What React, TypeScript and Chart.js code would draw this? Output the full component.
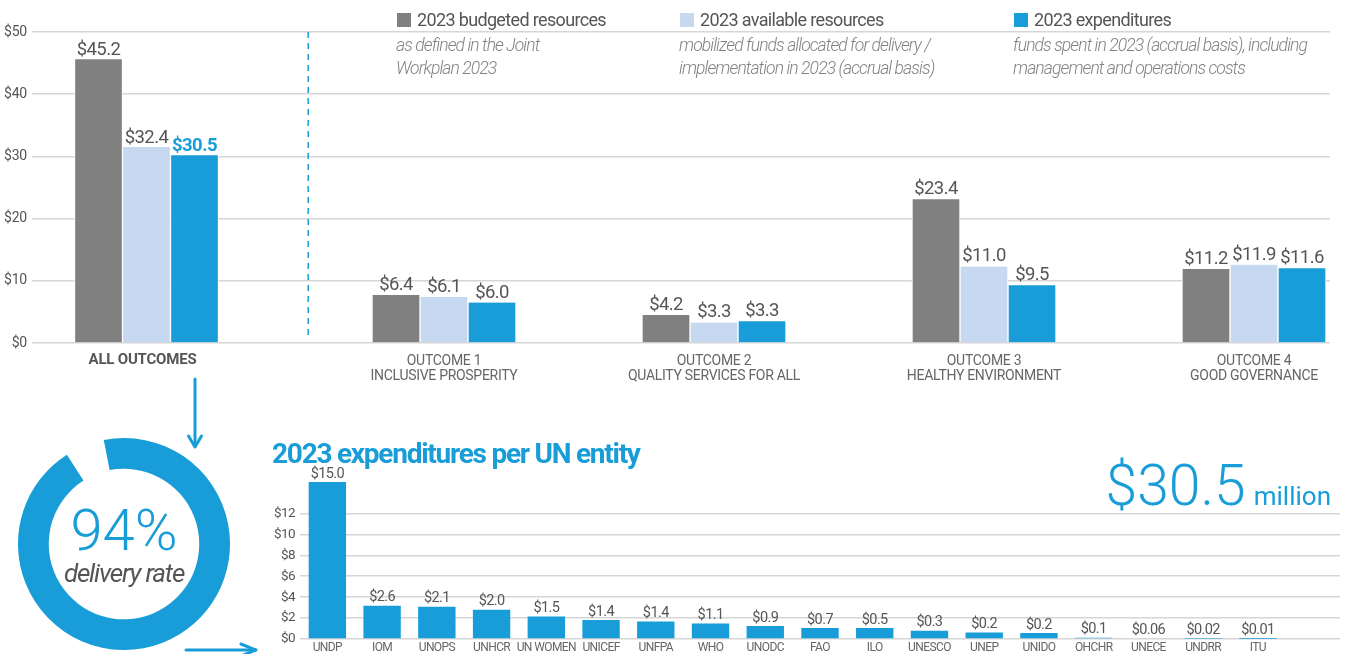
import React, { useEffect, useRef } from 'react';
import { Chart, registerables } from 'chart.js';

Chart.register(...registerables);

const BLUE = '#189dd9';
const LIGHT_BLUE = '#c6d9f0';
const GRAY = '#808080';
const GRID = '#d6d6d6';
const TEXT = '#555555';
const SUBTEXT = '#666666';
const NOTE = '#828282';
const FONT = 'Roboto, "Noto Sans", sans-serif';

// ---- Top chart data (US$ million) ----
const seriesNames = ['2023 budgeted resources', '2023 available resources', '2023 expenditures'];
const seriesNotes = [
  ['as defined in the Joint', 'Workplan 2023'],
  ['mobilized funds allocated for delivery /', 'implementation in 2023 (accrual basis)'],
  ['funds spent in 2023 (accrual basis), including', 'management and operations costs'],
];
const allOutcomesLabel = ['ALL OUTCOMES'];
const outcomeLabels = [
  ['OUTCOME 1', 'INCLUSIVE PROSPERITY'],
  ['OUTCOME 2', 'QUALITY SERVICES FOR ALL'],
  ['OUTCOME 3', 'HEALTHY ENVIRONMENT'],
  ['OUTCOME 4', 'GOOD GOVERNANCE'],
];
// bar heights as drawn: [all outcomes, outcome 1..4]
const budgetedBars = [45.6, 7.7, 4.5, 23.1, 11.9];
const availableBars = [31.5, 7.4, 3.3, 12.3, 12.6];
const expenditureBars = [30.2, 6.5, 3.5, 9.3, 12.0];
// values printed above the bars
const budgetedValues = [45.2, 6.4, 4.2, 23.4, 11.2];
const availableValues = [32.4, 6.1, 3.3, 11.0, 11.9];
const expenditureValues = [30.5, 6.0, 3.3, 9.5, 11.6];
const topTicks = [0, 10, 20, 30, 40, 50];

// ---- Bottom chart data ----
const entities = ['UNDP', 'IOM', 'UNOPS', 'UNHCR', 'UN WOMEN', 'UNICEF', 'UNFPA', 'WHO', 'UNODC', 'FAO', 'ILO', 'UNESCO', 'UNEP', 'UNIDO', 'OHCHR', 'UNECE', 'UNDRR', 'ITU'];
const entityBars = [15.0, 3.17, 3.08, 2.79, 2.16, 1.81, 1.68, 1.49, 1.24, 1.05, 1.05, 0.79, 0.63, 0.57, 0.12, 0.06, 0.02, 0.01];
const entityValues = [15.0, 2.6, 2.1, 2.0, 1.5, 1.4, 1.4, 1.1, 0.9, 0.7, 0.5, 0.3, 0.2, 0.2, 0.1, 0.06, 0.02, 0.01];
const entityTicks = [0, 2, 4, 6, 8, 10, 12];

// ---- Delivery rate ----
const deliveryRate = [94, 6];
const totalExpenditure = 30.5;

const fmt = (v: number) => '$' + (v >= 0.1 || v === 0 ? v.toFixed(1) : v.toFixed(2));

function letterSpacingPlugin(px: string) {
  return {
    id: 'letterSpacing',
    beforeDraw(chart: any) { chart.ctx.letterSpacing = px; },
    afterDraw(chart: any) { chart.ctx.letterSpacing = '0px'; },
  };
}

function valueLabelsPlugin(values: (number[] | null)[], styleFor: (ds: number, i: number) => { font: string; color: string }, gap: number, ls: string) {
  return {
    id: 'valueLabels',
    afterDatasetsDraw(chart: any) {
      const ctx = chart.ctx;
      values.forEach((vals, di) => {
        if (!vals) return;
        const meta = chart.getDatasetMeta(di);
        meta.data.forEach((el: any, i: number) => {
          const v = vals[i];
          if (v == null) return;
          const st = styleFor(di, i);
          ctx.save();
          ctx.letterSpacing = ls;
          ctx.font = st.font;
          ctx.fillStyle = st.color;
          ctx.textAlign = 'center';
          ctx.textBaseline = 'alphabetic';
          ctx.fillText(fmt(v), el.x, el.y - gap);
          ctx.restore();
        });
      });
    },
  };
}

const dividerPlugin = {
  id: 'divider',
  afterDraw(chart: any) {
    const { ctx, chartArea } = chart;
    ctx.save();
    ctx.strokeStyle = BLUE;
    ctx.lineWidth = 1.5;
    ctx.setLineDash([6, 5]);
    ctx.beginPath();
    ctx.moveTo(chartArea.right - 0.8, chartArea.top);
    ctx.lineTo(chartArea.right - 0.8, chartArea.bottom - 3);
    ctx.stroke();
    ctx.restore();
  },
};

function topY(showTicks: boolean, width: number) {
  return {
    min: 0,
    max: 50,
    afterBuildTicks: (s: any) => { s.ticks = topTicks.map((v) => ({ value: v })); },
    afterFit: (s: any) => { s.width = width; },
    ticks: {
      display: showTicks,
      padding: 5,
      color: TEXT,
      font: { family: FONT, size: 14 },
      callback: (v: any) => '$' + v,
    },
    grid: { color: GRID, lineWidth: 1.5, drawTicks: false },
    border: { display: false },
  };
}

const barDefaults = {
  barThickness: 48,
  borderWidth: { left: 1, right: 1, top: 0, bottom: 0 },
  borderColor: '#ffffff',
};

const TOP_H = 392;
const TOP_X_AXIS_H = TOP_H - 343;

export default function App() {
  const leftRef = useRef<HTMLCanvasElement>(null);
  const rightRef = useRef<HTMLCanvasElement>(null);
  const entRef = useRef<HTMLCanvasElement>(null);
  const donutRef = useRef<HTMLCanvasElement>(null);

  useEffect(() => {
    const charts: Chart[] = [];
    const valueFont = `400 18.5px ${FONT}`;

    // Left: all outcomes
    charts.push(new Chart(leftRef.current as HTMLCanvasElement, {
      type: 'bar',
      data: {
        labels: allOutcomesLabel,
        datasets: [
          { label: seriesNames[0], data: budgetedBars.slice(0, 1), backgroundColor: GRAY, ...barDefaults },
          { label: seriesNames[1], data: availableBars.slice(0, 1), backgroundColor: LIGHT_BLUE, ...barDefaults },
          { label: seriesNames[2], data: expenditureBars.slice(0, 1), backgroundColor: BLUE, ...barDefaults },
          { label: 'spacer', data: [null], backgroundColor: 'rgba(0,0,0,0)', ...barDefaults },
        ] as any,
      },
      options: {
        responsive: false,
        animation: false,
        layout: { padding: { top: 32, right: 0, left: 0, bottom: 0 } },
        plugins: { legend: { display: false }, tooltip: { enabled: false } },
        scales: {
          x: {
            offset: true,
            grid: { display: false, drawTicks: false },
            border: { display: false },
            afterFit: (s: any) => { s.height = TOP_X_AXIS_H; },
            ticks: { color: TEXT, font: { family: FONT, size: 15, weight: 'bold' }, padding: 8, labelOffset: -28, maxRotation: 0, autoSkip: false },
          },
          y: topY(true, 32) as any,
        },
      } as any,
      plugins: [
        letterSpacingPlugin('-0.2px'),
        valueLabelsPlugin(
          [budgetedValues.slice(0, 1), availableValues.slice(0, 1), expenditureValues.slice(0, 1), null],
          (ds) => ds === 2 ? { font: `700 18.5px ${FONT}`, color: BLUE } : { font: valueFont, color: TEXT },
          4, '-0.6px'),
        dividerPlugin,
      ],
    }));

    // Right: outcomes 1-4
    charts.push(new Chart(rightRef.current as HTMLCanvasElement, {
      type: 'bar',
      data: {
        labels: outcomeLabels,
        datasets: [
          { label: seriesNames[0], data: budgetedBars.slice(1), backgroundColor: GRAY, ...barDefaults },
          { label: seriesNames[1], data: availableBars.slice(1), backgroundColor: LIGHT_BLUE, ...barDefaults },
          { label: seriesNames[2], data: expenditureBars.slice(1), backgroundColor: BLUE, ...barDefaults },
        ] as any,
      },
      options: {
        responsive: false,
        animation: false,
        layout: { padding: { top: 32, right: 0, left: 0, bottom: 0 } },
        plugins: { legend: { display: false }, tooltip: { enabled: false } },
        scales: {
          x: {
            offset: true,
            grid: { display: false, drawTicks: false },
            border: { display: false },
            afterFit: (s: any) => { s.height = TOP_X_AXIS_H; },
            ticks: { color: SUBTEXT, font: { family: FONT, size: 14, lineHeight: 1.05 }, padding: 11, maxRotation: 0, autoSkip: false },
          },
          y: topY(false, 0) as any,
        },
      } as any,
      plugins: [
        letterSpacingPlugin('-0.3px'),
        valueLabelsPlugin(
          [budgetedValues.slice(1), availableValues.slice(1), expenditureValues.slice(1)],
          () => ({ font: valueFont, color: TEXT }),
          5, '-0.6px'),
      ],
    }));

    // Bottom: expenditures per UN entity
    charts.push(new Chart(entRef.current as HTMLCanvasElement, {
      type: 'bar',
      data: {
        labels: [...entities, ''],
        datasets: [
          { label: seriesNames[2], data: entityBars, backgroundColor: BLUE, barPercentage: 0.683, categoryPercentage: 1 },
        ] as any,
      },
      options: {
        responsive: false,
        animation: false,
        layout: { padding: { top: 17, right: 6, left: 0, bottom: 0 } },
        plugins: { legend: { display: false }, tooltip: { enabled: false } },
        scales: {
          x: {
            offset: true,
            grid: { display: false, drawTicks: false },
            border: { display: false },
            afterFit: (s: any) => { s.height = 15; },
            ticks: { color: SUBTEXT, font: { family: FONT, size: 12 }, padding: 2, maxRotation: 0, minRotation: 0, autoSkip: false },
          },
          y: {
            min: 0,
            max: 15,
            afterBuildTicks: (s: any) => { s.ticks = entityTicks.map((v) => ({ value: v })); },
            afterFit: (s: any) => { s.width = 40; },
            ticks: { padding: 5, color: TEXT, font: { family: FONT, size: 13.5 }, callback: (v: any) => '$' + v },
            grid: { color: GRID, lineWidth: 1.5, drawTicks: false },
            border: { display: false },
          },
        },
      } as any,
      plugins: [
        letterSpacingPlugin('-0.6px'),
        valueLabelsPlugin([entityValues], () => ({ font: `400 14.5px ${FONT}`, color: TEXT }), 4.5, '-0.6px'),
      ],
    }));

    // Donut: delivery rate
    charts.push(new Chart(donutRef.current as HTMLCanvasElement, {
      type: 'doughnut',
      data: {
        labels: ['delivered', 'not delivered'],
        datasets: [{ data: deliveryRate, backgroundColor: [BLUE, 'rgba(0,0,0,0)'], borderWidth: 0, hoverOffset: 0, offset: 0 }] as any,
      },
      options: {
        responsive: false,
        animation: false,
        cutout: '71%',
        rotation: -11,
        layout: { padding: 0 },
        plugins: { legend: { display: false }, tooltip: { enabled: false } },
      } as any,
    }));

    return () => charts.forEach((c) => c.destroy());
  }, []);

  const legendX = [397, 680, 1014];
  const legendColors = [GRAY, LIGHT_BLUE, BLUE];

  return (
    <div style={{ position: 'absolute', left: 0, top: 0, width: 1346, height: 654, overflow: 'hidden', background: '#fff', fontFamily: FONT }}>
      <canvas ref={leftRef} width={309} height={TOP_H} style={{ position: 'absolute', left: 0, top: 0 }} />
      <div style={{ position: 'absolute', left: 309, top: 0, width: 1021, height: TOP_H, overflow: 'hidden' }}>
        <canvas ref={rightRef} width={1080} height={TOP_H} style={{ position: 'absolute', left: 0, top: 0 }} />
      </div>

      {seriesNames.map((name, i) => (
        <React.Fragment key={name}>
          <div style={{ position: 'absolute', left: legendX[i], top: 13, width: 14, height: 14, background: legendColors[i] }} />
          <div style={{ position: 'absolute', left: legendX[i] + 20, top: 11, fontSize: 18, lineHeight: '18px', color: TEXT, whiteSpace: 'nowrap', letterSpacing: '-0.65px' }}>{name}</div>
          <div style={{ position: 'absolute', left: legendX[i] - 1, top: 34, fontSize: 17.5, lineHeight: '23px', color: NOTE, fontStyle: 'italic', fontWeight: 300, whiteSpace: 'nowrap', letterSpacing: '-0.9px' }}>
            {seriesNotes[i].map((l) => <div key={l}>{l}</div>)}
          </div>
        </React.Fragment>
      ))}

      <canvas ref={entRef} width={1086} height={189} style={{ position: 'absolute', left: 260, top: 465 }} />
      <div style={{ position: 'absolute', left: 272, top: 440, fontSize: 28, lineHeight: '28px', fontWeight: 700, color: BLUE, whiteSpace: 'nowrap', letterSpacing: '-1.25px' }}>2023 expenditures per UN entity</div>
      <div style={{ position: 'absolute', right: 15, top: 457, fontSize: 57, lineHeight: '57px', fontWeight: 300, color: BLUE, whiteSpace: 'nowrap', textAlign: 'right' }}>
        {'$' + totalExpenditure.toFixed(1)}<span style={{ fontSize: 26, fontWeight: 400, marginLeft: 8 }}>million</span>
      </div>

      <canvas ref={donutRef} width={212} height={212} style={{ position: 'absolute', left: 18, top: 438 }} />
      <div style={{ position: 'absolute', left: 24, top: 501, width: 200, textAlign: 'center', fontSize: 58, lineHeight: '58px', fontWeight: 300, color: BLUE }}>{deliveryRate[0]}%</div>
      <div style={{ position: 'absolute', left: 24, top: 560, width: 200, textAlign: 'center', fontSize: 26, lineHeight: '26px', fontStyle: 'italic', color: TEXT, letterSpacing: '-1.2px', whiteSpace: 'nowrap' }}>delivery rate</div>

      <svg width={1346} height={654} style={{ position: 'absolute', left: 0, top: 0, pointerEvents: 'none' }}>
        <g stroke={BLUE} strokeWidth={3} fill="none" strokeLinecap="round" strokeLinejoin="round">
          <path d="M195 379 L195 446" />
          <path d="M188.5 436 L195 447 L201.5 436" />
          <path d="M186 650 L255 650" />
          <path d="M241 644 L256 650 L241 656" />
        </g>
      </svg>
    </div>
  );
}
